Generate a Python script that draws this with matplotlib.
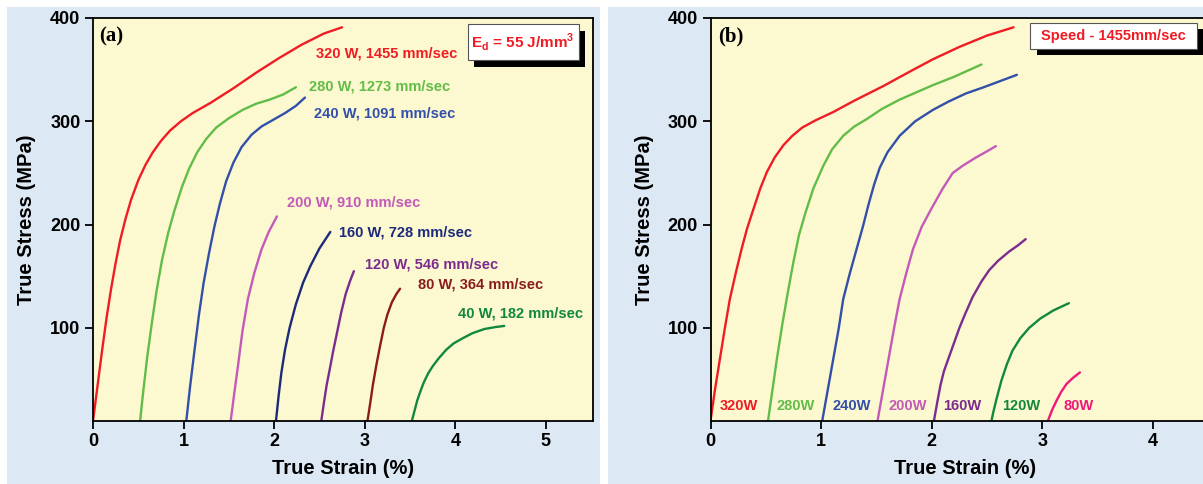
import matplotlib
matplotlib.use("Agg")
import matplotlib.pyplot as plt
from matplotlib.patches import Rectangle

plt.rcParams['font.family'] = ['Liberation Sans', 'DejaVu Sans']
plt.rcParams['font.weight'] = 'bold'
plt.rcParams['mathtext.fontset'] = 'custom'
plt.rcParams['mathtext.rm'] = 'Liberation Sans:bold'
plt.rcParams['mathtext.bf'] = 'Liberation Sans:bold'

# ---- panel (a) : E_d = 55 J/mm3 ----
a320_x = [0, 0.05, 0.1, 0.15, 0.2, 0.25, 0.3, 0.36, 0.42, 0.5, 0.58, 0.66, 0.75, 0.85, 0.97,
          1.1, 1.3, 1.55, 1.8, 2.05, 2.3, 2.55, 2.75]
a320_y = [10, 44, 78, 110, 138, 163, 185, 206, 224, 243, 258, 270, 281, 291, 300,
          308, 318, 332, 347, 361, 374, 385, 391]
a280_x = [0.52, 0.55, 0.6, 0.65, 0.7, 0.76, 0.83, 0.9, 0.98, 1.06, 1.15, 1.25, 1.36, 1.5,
          1.65, 1.8, 1.95, 2.1, 2.24]
a280_y = [10, 35, 73, 105, 135, 165, 192, 214, 236, 254, 270, 283, 294, 303,
          311, 317, 321, 326, 333]
a240_x = [1.03, 1.07, 1.12, 1.17, 1.22, 1.28, 1.34, 1.4, 1.47, 1.55, 1.64, 1.75, 1.86, 2.0,
          2.12, 2.24, 2.34]
a240_y = [10, 42, 78, 113, 143, 172, 198, 220, 242, 260, 275, 287, 295, 302,
          308, 315, 323]
a200_x = [1.52, 1.56, 1.6, 1.65, 1.71, 1.78, 1.86, 1.94, 2.03]
a200_y = [10, 37, 63, 97, 128, 153, 176, 193, 208]
a160_x = [2.02, 2.05, 2.08, 2.12, 2.17, 2.24, 2.32, 2.4, 2.5, 2.62]
a160_y = [10, 35, 57, 79, 100, 123, 144, 160, 177, 193]
a120_x = [2.52, 2.55, 2.58, 2.62, 2.65, 2.7, 2.74, 2.79, 2.84, 2.88]
a120_y = [10, 28, 45, 63, 77, 98, 115, 133, 146, 155]
a80_x = [3.03, 3.06, 3.09, 3.13, 3.17, 3.21, 3.25, 3.3, 3.35, 3.39]
a80_y = [10, 27, 45, 65, 83, 100, 113, 125, 133, 138]
a40_x = [3.52, 3.55, 3.58, 3.62, 3.65, 3.7, 3.75, 3.82, 3.9, 3.98, 4.08, 4.19, 4.32, 4.45, 4.54]
a40_y = [10, 20, 30, 40, 47, 56, 63, 71, 79, 85, 90, 95, 99, 101, 102]

a_labels = ["320 W, 1455 mm/sec", "280 W, 1273 mm/sec", "240 W, 1091 mm/sec",
            "200 W, 910 mm/sec", "160 W, 728 mm/sec", "120 W, 546 mm/sec",
            "80 W, 364 mm/sec", "40 W, 182 mm/sec"]
a_label_x = [2.46, 2.39, 2.44, 2.14, 2.72, 3.0, 3.59, 4.03]
a_label_y = [366, 334, 308, 221, 192, 161, 142, 114]
a_colors = ['#f01c24', '#62bd48', '#3250aa', '#c35ab9', '#1d2a7c', '#7b2c8e', '#8c1c1c', '#11883e']

# ---- panel (b) : speed 1455 mm/sec ----
b320_x = [0, 0.04, 0.085, 0.13, 0.175, 0.23, 0.28, 0.33, 0.385, 0.45, 0.51, 0.58, 0.66, 0.74,
          0.83, 0.95, 1.11, 1.3, 1.56, 1.8, 2.01, 2.25, 2.5, 2.74]
b320_y = [10, 40, 70, 100, 128, 154, 176, 196, 214, 235, 251, 265, 277, 286,
          294, 301, 309, 320, 334, 348, 360, 372, 383, 391]
b280_x = [0.52, 0.56, 0.6, 0.65, 0.7, 0.75, 0.8, 0.86, 0.93, 1.02, 1.1, 1.2, 1.3, 1.41,
          1.55, 1.71, 1.86, 2.01, 2.2, 2.45]
b280_y = [10, 40, 70, 104, 135, 164, 190, 212, 235, 257, 273, 286, 295, 302,
          312, 321, 328, 335, 343, 355]
b240_x = [1.01, 1.06, 1.11, 1.16, 1.2, 1.26, 1.32, 1.38, 1.43, 1.48, 1.53, 1.6, 1.71, 1.85,
          2.01, 2.15, 2.31, 2.47, 2.62, 2.77]
b240_y = [10, 40, 70, 100, 128, 153, 176, 199, 220, 239, 255, 270, 286, 300,
          311, 319, 327, 333, 339, 345]
b200_x = [1.51, 1.56, 1.61, 1.66, 1.71, 1.77, 1.83, 1.91, 2.0, 2.1, 2.19, 2.28, 2.4, 2.5, 2.58]
b200_y = [10, 40, 70, 100, 128, 153, 176, 198, 216, 235, 250, 257, 265, 271, 276]
b160_x = [2.02, 2.05, 2.08, 2.11, 2.15, 2.2, 2.25, 2.3, 2.37, 2.45, 2.52, 2.6, 2.7, 2.78, 2.85]
b160_y = [10, 28, 45, 58, 70, 85, 100, 113, 130, 145, 156, 165, 174, 180, 186]
b120_x = [2.54, 2.56, 2.59, 2.63, 2.68, 2.73, 2.8, 2.88, 2.98, 3.1, 3.24]
b120_y = [10, 20, 33, 49, 65, 78, 90, 100, 109, 117, 124]
b80_x = [3.05, 3.09, 3.13, 3.17, 3.22, 3.28, 3.34]
b80_y = [10, 21, 30, 38, 46, 52, 57]

b_labels = ["320W", "280W", "240W", "200W", "160W", "120W", "80W"]
b_label_x = [0.08, 0.6, 1.1, 1.61, 2.1, 2.64, 3.19]
b_label_y = 25
b_colors = ['#f01c24', '#62bd48', '#3250aa', '#c35ab9', '#7b2c8e', '#11883e', '#f0197a']

a_curves = [(a320_x, a320_y), (a280_x, a280_y), (a240_x, a240_y), (a200_x, a200_y),
            (a160_x, a160_y), (a120_x, a120_y), (a80_x, a80_y), (a40_x, a40_y)]
b_curves = [(b320_x, b320_y), (b280_x, b280_y), (b240_x, b240_y), (b200_x, b200_y),
            (b160_x, b160_y), (b120_x, b120_y), (b80_x, b80_y)]

W, H = 1203, 484
fig = plt.figure(figsize=(W / 100, H / 100), dpi=100)
fig.patch.set_facecolor('white')
bg = '#dce8f3'
fig.add_artist(Rectangle((7 / W, 0), (600 - 7) / W, (H - 7) / H, transform=fig.transFigure,
                         facecolor=bg, edgecolor='none', zorder=-10))
fig.add_artist(Rectangle((608 / W, 0), (W - 608) / W, (H - 7) / H, transform=fig.transFigure,
                         facecolor=bg, edgecolor='none', zorder=-10))

ax_a = fig.add_axes([93 / W, (H - 421) / H, 500 / W, 403 / H])
ax_b = fig.add_axes([710.5 / W, (H - 421) / H, 4.6 * 110.6 / W, 403 / H])


def style(ax, xmax, xticks):
    ax.set_facecolor('#fcf8d0')
    ax.set_xlim(0, xmax)
    ax.set_ylim(10, 400)
    ax.set_xticks(xticks)
    ax.set_yticks([100, 200, 300, 400])
    ax.tick_params(direction='out', length=6, width=1.3, labelsize=13, pad=3)
    for s in ax.spines.values():
        s.set_linewidth(1.3)
    ax.set_xlabel("True Strain (%)", fontsize=14.5, fontweight='bold', labelpad=6)
    ax.set_ylabel("True Stress (MPa)", fontsize=14.5, fontweight='bold', labelpad=10)


def shadow_box(ax, x0, y0, x1, y1, dx, dy):
    ax.add_patch(Rectangle((x0 + dx, y0 - dy), x1 - x0, y1 - y0, transform=ax.transAxes,
                           facecolor='black', edgecolor='none', clip_on=False, zorder=5))
    ax.add_patch(Rectangle((x0, y0), x1 - x0, y1 - y0, transform=ax.transAxes,
                           facecolor='white', edgecolor='#555555', linewidth=0.8,
                           clip_on=False, zorder=6))


# panel (a)
style(ax_a, 5.52, [0, 1, 2, 3, 4, 5])
for (x, y), c in zip(a_curves, a_colors):
    ax_a.plot(x, y, color=c, lw=1.7, solid_capstyle='round', solid_joinstyle='round')
for t, x, y, c in zip(a_labels, a_label_x, a_label_y, a_colors):
    ax_a.text(x, y, t, color=c, fontsize=10.5, fontweight='bold', ha='left', va='center')
ax_a.text(0.012, 0.953, "(a)", transform=ax_a.transAxes, fontsize=15, fontweight='bold',
          family=['Liberation Serif', 'DejaVu Serif'], va='center', ha='left')
shadow_box(ax_a, 0.749, 0.896, 0.971, 0.985, 0.013, 0.017)
ax_a.text(0.86, 0.94, r"E$_\mathregular{d}$ = 55 J/mm$^\mathregular{3}$", transform=ax_a.transAxes,
          color='#f01c24', fontsize=11, fontweight='bold', ha='center', va='center', zorder=7)

# panel (b)
style(ax_b, 4.6, [0, 1, 2, 3, 4])
for (x, y), c in zip(b_curves, b_colors):
    ax_b.plot(x, y, color=c, lw=1.7, solid_capstyle='round', solid_joinstyle='round')
for t, x, c in zip(b_labels, b_label_x, b_colors):
    ax_b.text(x, b_label_y, t, color=c, fontsize=10.5, fontweight='bold', ha='left', va='center')
ax_b.text(0.015, 0.953, "(b)", transform=ax_b.transAxes, fontsize=15, fontweight='bold',
          family=['Liberation Serif', 'DejaVu Serif'], va='center', ha='left')
shadow_box(ax_b, 0.628, 0.922, 0.956, 0.988, 0.013, 0.015)
ax_b.text(0.792, 0.955, "Speed - 1455mm/sec", transform=ax_b.transAxes,
          color='#f01c24', fontsize=10.5, fontweight='bold', ha='center', va='center', zorder=7)

fig.savefig("out.png", dpi=100)
